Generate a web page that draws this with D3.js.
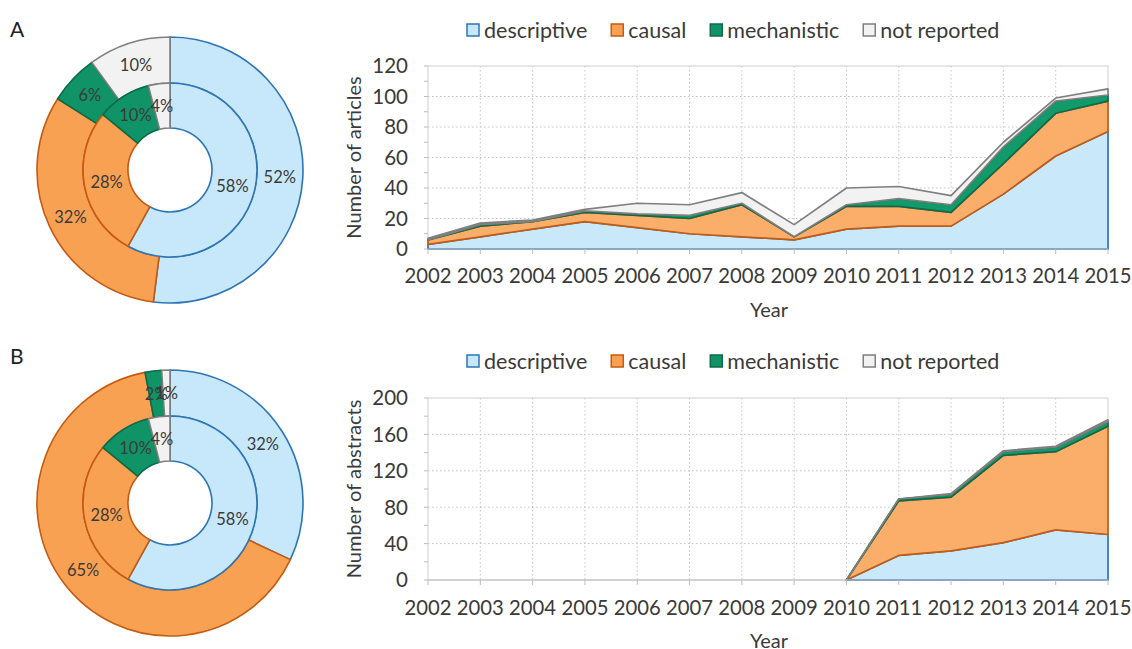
<!DOCTYPE html>
<html><head><meta charset="utf-8">
<script src="https://cdn.jsdelivr.net/npm/d3@7"></script>
<style>body{margin:0;background:#fff} svg{display:block;font-family:Lato,"Open Sans",sans-serif}</style>
</head><body><svg width="1132" height="649"></svg>
<script>
// ---------- data ----------
const years = [2002,2003,2004,2005,2006,2007,2008,2009,2010,2011,2012,2013,2014,2015];
const seriesNames = ["descriptive","causal","mechanistic","not reported"];

const articlesDescriptive = [3,8,13,18,14,10,8,6,13,15,15,36,61,77];
const articlesCausal      = [3,7,5,6,8,10,21,2,15,13,9,20,28,20];
const articlesMechanistic = [0,1,0,1,1,2,1,0,1,5,5,11,8,4];
const articlesNotReported = [1,1,1,1,7,7,7,8,11,8,6,3,2,4];

const abstractsDescriptive = [null,null,null,null,null,null,null,null,0,27,32,41,55,50];
const abstractsCausal      = [null,null,null,null,null,null,null,null,0,60,59,96,86,119];
const abstractsMechanistic = [null,null,null,null,null,null,null,null,0,2,3,4,5,5];
const abstractsNotReported = [null,null,null,null,null,null,null,null,0,0,1,1,1,2];

const donutAOuter = [52,32,6,10];
const donutAInner = [58,28,10,4];
const donutBOuter = [32,65,2,1];
const donutBInner = [58,28,10,4];

const yTicksA = [0,20,40,60,80,100,120];
const yTicksB = [0,40,80,120,160,200];

// ---------- styles ----------
const donutFills = ["#c7e8fa","#f9a152","#109467","#f2f2f2"];
const areaFills  = ["#c9e9fb","#fbad6a","#139a6b","#f2f2f2"];
const strokes    = ["#2e75b6","#c55a11","#0b6b4b","#7f7f7f"];
const txt = "#3a3a3a";

const svg = d3.select("svg");

// ---------- panel letters ----------
svg.append("text").attr("x",10).attr("y",37).attr("font-size",21).attr("fill","#222").text("A");
svg.append("text").attr("x",10).attr("y",364).attr("font-size",21).attr("fill","#222").text("B");

// ---------- donuts ----------
function donut(cx, cy, outerVals, innerVals){
  const g = svg.append("g").attr("transform",`translate(${cx},${cy})`);
  const pie = d3.pie().sort(null).value(d=>d);
  const rings = [
    {vals: outerVals, r0: 87, r1: 133},
    {vals: innerVals, r0: 42, r1: 87}
  ];
  rings.forEach(ring=>{
    const arc = d3.arc().innerRadius(ring.r0).outerRadius(ring.r1);
    g.selectAll(null).data(pie(ring.vals)).enter().append("path")
      .attr("d",arc)
      .attr("fill",(d,i)=>donutFills[i])
      .attr("stroke",(d,i)=>strokes[i])
      .attr("stroke-width",1.6)
      .attr("stroke-linejoin","round");
  });
  rings.forEach(ring=>{
    const arc = d3.arc().innerRadius(ring.r0).outerRadius(ring.r1);
    g.selectAll(null).data(pie(ring.vals)).enter().append("text")
      .attr("transform",d=>`translate(${arc.centroid(d)})`)
      .attr("text-anchor","middle").attr("dy","0.36em")
      .attr("font-size",16.5).attr("fill",txt)
      .text(d=>d.data+"%");
  });
}
donut(170,170,donutAOuter,donutAInner);
donut(170,503,donutBOuter,donutBInner);

// ---------- area charts ----------
const x = d3.scaleLinear().domain([2002,2015]).range([428,1108]);

function areaChart(opts){
  const {top,bottom,maxY,ticks,minorStep,series,yLabel,legendY,yearY,xLabelY} = opts;
  const y = d3.scaleLinear().domain([0,maxY]).range([bottom,top]);
  const g = svg.append("g");

  // grid
  g.selectAll(null).data(ticks.filter(t=>t>0 && t<maxY)).enter().append("line")
    .attr("x1",x(2002)).attr("x2",x(2015)).attr("y1",d=>y(d)).attr("y2",d=>y(d))
    .attr("stroke","#c4c4c4").attr("stroke-width",1).attr("stroke-dasharray","1.5,2.5");
  g.selectAll(null).data(years.slice(1,-1)).enter().append("line")
    .attr("x1",d=>x(d)).attr("x2",d=>x(d)).attr("y1",top).attr("y2",bottom)
    .attr("stroke","#c4c4c4").attr("stroke-width",1).attr("stroke-dasharray","1.5,2.5");
  // frame
  g.append("rect").attr("x",x(2002)).attr("y",top).attr("width",x(2015)-x(2002)).attr("height",bottom-top)
    .attr("fill","none").attr("stroke","#d6d6d6").attr("stroke-width",1.2);

  // data rows
  const rows = years.map((yr,i)=>{
    const r = {year: yr, defined: series[0][i] !== null};
    seriesNames.forEach((n,k)=>{ r[n] = series[k][i] ?? 0; });
    return r;
  });
  const stacked = d3.stack().keys(seriesNames)(rows);
  const area = d3.area()
    .defined(d=>d.data.defined)
    .x(d=>x(d.data.year)).y0(d=>y(d[0])).y1(d=>y(d[1]));
  g.selectAll(null).data(stacked).enter().append("path")
    .attr("d",area)
    .attr("fill",(d,i)=>areaFills[i])
    .attr("stroke",(d,i)=>strokes[i])
    .attr("stroke-width",1.7)
    .attr("stroke-linejoin","round");

  // bottom axis
  g.append("line").attr("x1",x(2002)).attr("x2",x(2015)).attr("y1",bottom).attr("y2",bottom)
    .attr("stroke","#bdbdbd").attr("stroke-width",1.2);
  g.selectAll(null).data(years).enter().append("line")
    .attr("x1",d=>x(d)).attr("x2",d=>x(d)).attr("y1",bottom).attr("y2",bottom+5)
    .attr("stroke","#bdbdbd");
  // left axis minor ticks
  g.selectAll(null).data(d3.range(0,maxY+0.1,minorStep)).enter().append("line")
    .attr("x1",x(2002)-4).attr("x2",x(2002)).attr("y1",d=>y(d)).attr("y2",d=>y(d))
    .attr("stroke","#bdbdbd");

  // tick labels
  g.selectAll(null).data(ticks).enter().append("text")
    .attr("x",408).attr("y",d=>y(d)).attr("dy","0.36em").attr("text-anchor","end")
    .attr("font-size",20.5).attr("fill",txt).text(d=>d);
  g.selectAll(null).data(years).enter().append("text")
    .attr("x",d=>x(d)).attr("y",yearY).attr("text-anchor","middle")
    .attr("font-size",20.3).attr("fill",txt).text(d=>d);

  // axis titles
  g.append("text").attr("transform",`translate(361,${(top+bottom)/2}) rotate(-90)`)
    .attr("text-anchor","middle").attr("font-size",20).attr("fill",txt).text(yLabel);
  g.append("text").attr("x",769).attr("y",xLabelY).attr("text-anchor","middle")
    .attr("font-size",20).attr("fill",txt).text("Year");

  // legend
  let lx = 467;
  seriesNames.forEach((n,i)=>{
    g.append("rect").attr("x",lx).attr("y",legendY-6).attr("width",12).attr("height",12)
      .attr("fill",donutFills[i]).attr("stroke",strokes[i]).attr("stroke-width",1.5);
    const t = g.append("text").attr("x",lx+17).attr("y",legendY).attr("dy","0.36em")
      .attr("font-size",21.5).attr("fill",txt).text(n);
    lx += 17 + t.node().getComputedTextLength() + 24;
  });
}

areaChart({top:66,bottom:249,maxY:120,ticks:yTicksA,minorStep:10,
  series:[articlesDescriptive,articlesCausal,articlesMechanistic,articlesNotReported],
  yLabel:"Number of articles",legendY:30,yearY:283,xLabelY:317});
areaChart({top:398,bottom:580,maxY:200,ticks:yTicksB,minorStep:20,
  series:[abstractsDescriptive,abstractsCausal,abstractsMechanistic,abstractsNotReported],
  yLabel:"Number of abstracts",legendY:361,yearY:615,xLabelY:648});
</script></body></html>
